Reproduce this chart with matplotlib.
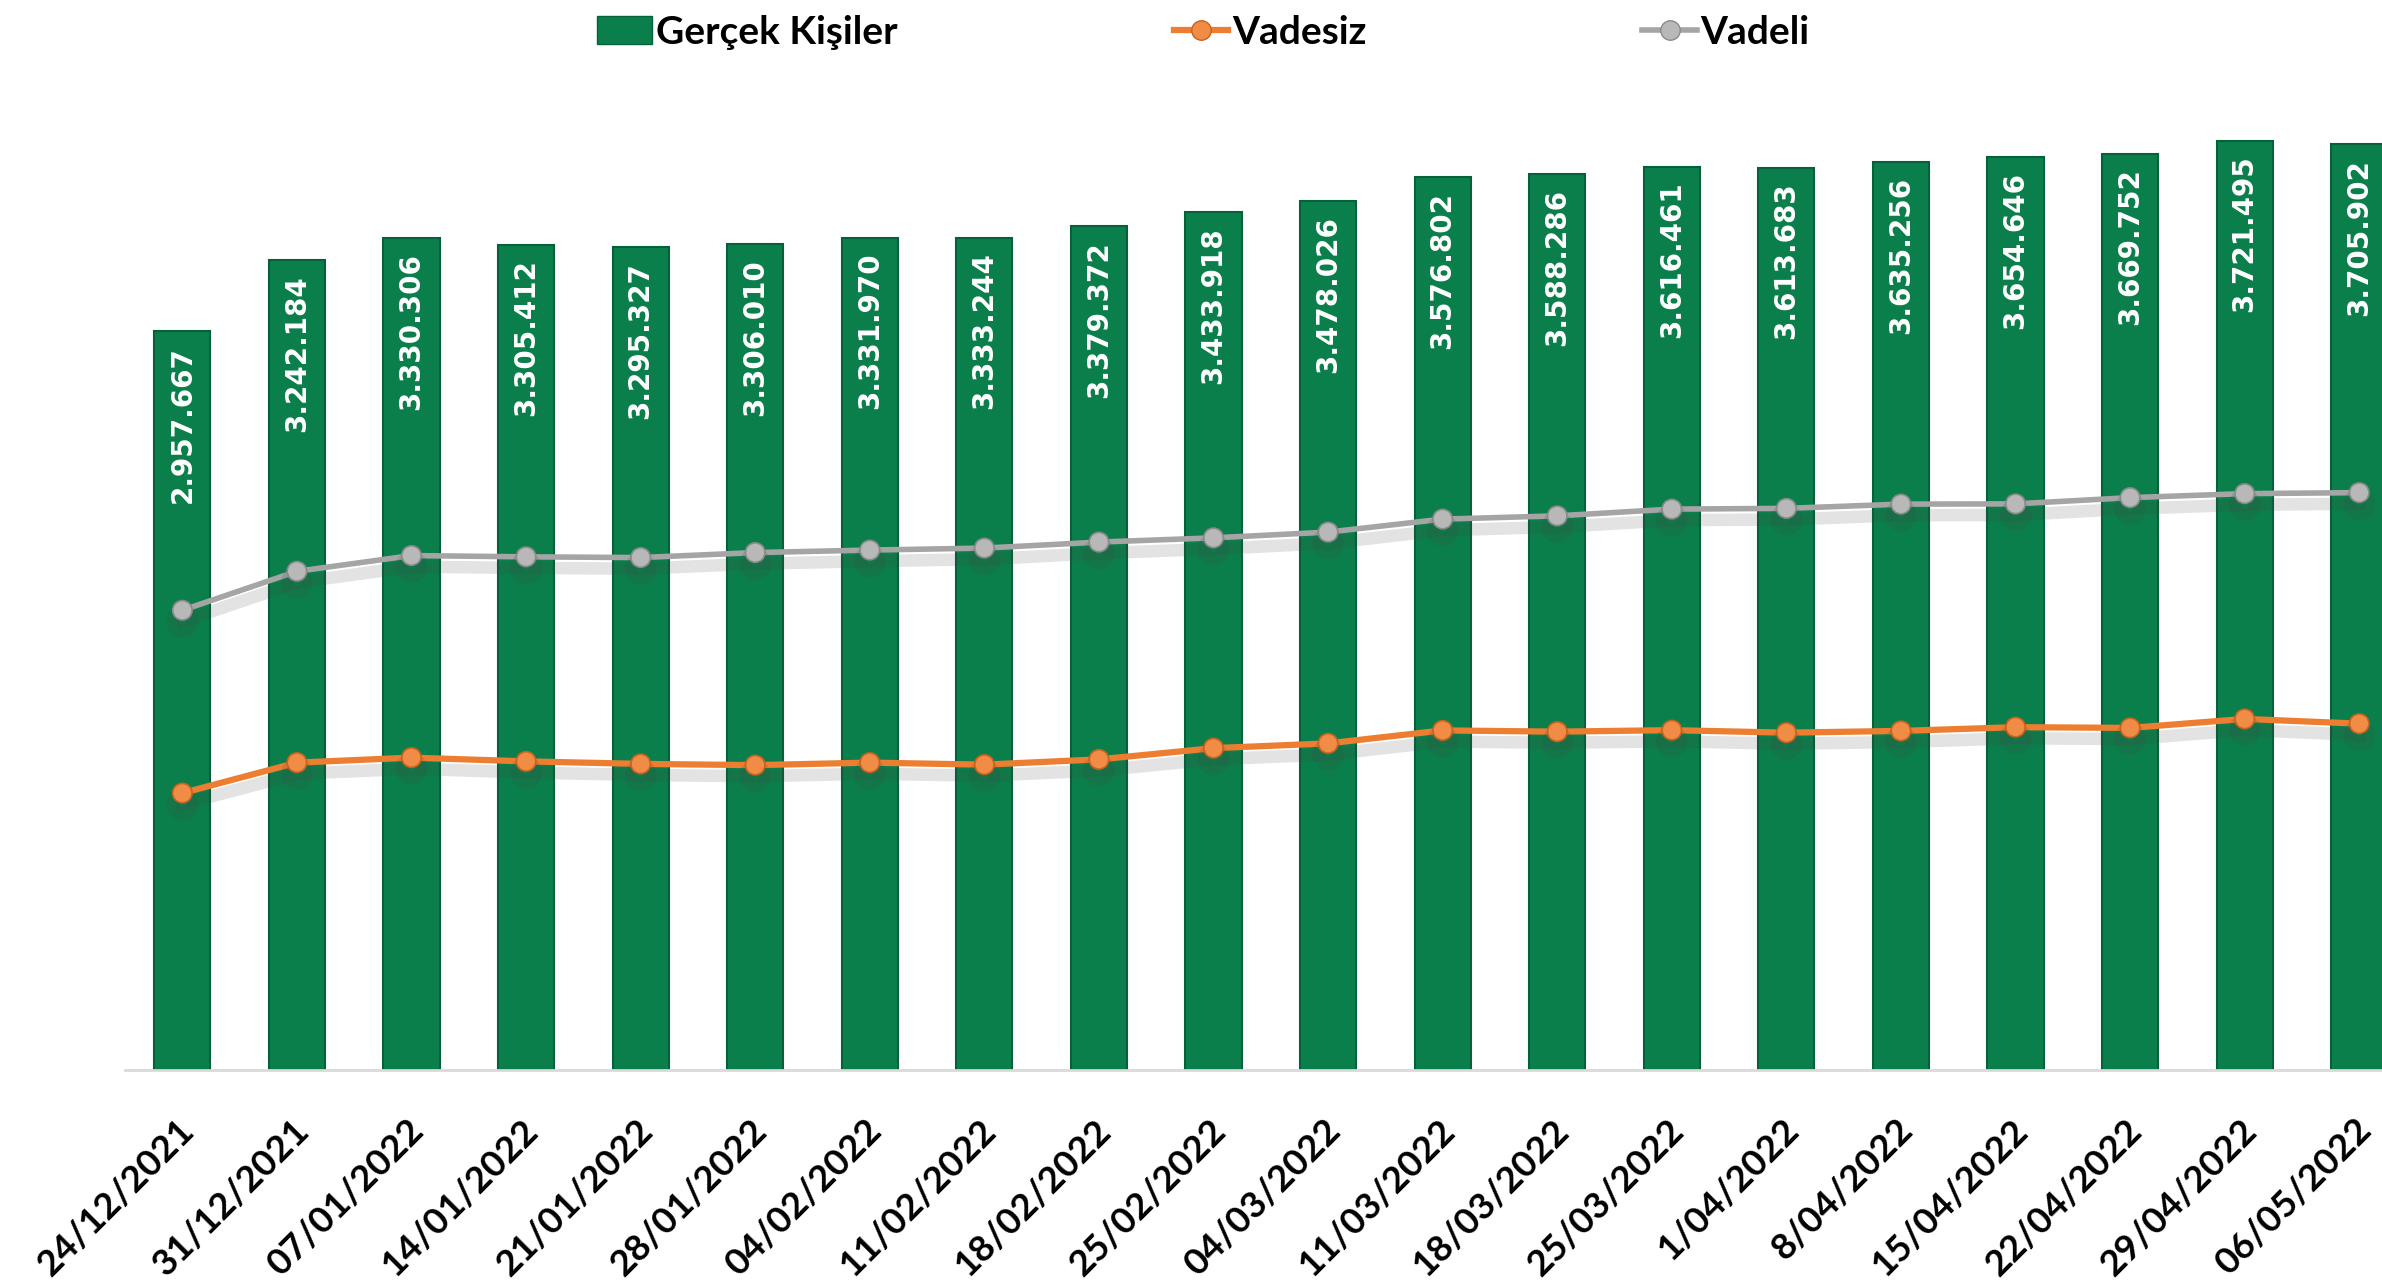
import matplotlib
matplotlib.use("Agg")
import matplotlib.pyplot as plt
import matplotlib.patheffects as pe
from matplotlib.lines import Line2D
from matplotlib.patches import Patch
from matplotlib.transforms import ScaledTranslation
import numpy as np

dates = ["24/12/2021", "31/12/2021", "07/01/2022", "14/01/2022", "21/01/2022",
         "28/01/2022", "04/02/2022", "11/02/2022", "18/02/2022", "25/02/2022",
         "04/03/2022", "11/03/2022", "18/03/2022", "25/03/2022", "1/04/2022",
         "8/04/2022", "15/04/2022", "22/04/2022", "29/04/2022", "06/05/2022"]

gercek_kisiler = [2957667, 3242184, 3330306, 3305412, 3295327, 3306010, 3331970,
                  3333244, 3379372, 3433918, 3478026, 3576802, 3588286, 3616461,
                  3613683, 3635256, 3654646, 3669752, 3721495, 3705902]

# (no labels in the source)
vadesiz = [1109000, 1231000, 1251000, 1236000, 1226000, 1221000, 1231000, 1223000,
           1244000, 1289000, 1308000, 1360000, 1355000, 1361000, 1351000, 1358000,
           1373000, 1370000, 1406000, 1387000]
vadeli = [1841000, 1997000, 2060000, 2055000, 2052000, 2072000, 2082000, 2090000,
          2114000, 2131000, 2154000, 2206000, 2219000, 2246000, 2249000, 2266000,
          2267000, 2292000, 2308000, 2312000]

GREEN = "#0a7f4b"
ORANGE = "#ed7d31"
GREY = "#a5a5a5"


def fmt(v):
    return f"{v:,}".replace(",", ".")


fig = plt.figure(figsize=(23.82, 12.80), dpi=100)
ax = fig.add_axes([0.0525, 0.164, 0.962, 0.7805])

x = np.arange(len(dates))
bars = ax.bar(x, gercek_kisiler, width=0.49, color=GREEN, edgecolor="#06603a",
              linewidth=1.5, zorder=2)
for b, v in zip(bars, gercek_kisiler):
    ax.text(b.get_x() + b.get_width() / 2, v - 60000, fmt(v), rotation=90,
            ha="center", va="top", color="white", fontsize=20, fontweight="bold",
            family="DejaVu Sans", zorder=4)

shadow = [pe.SimpleLineShadow(offset=(0, -8), shadow_color="#444444", alpha=0.15,
                              linewidth=9), pe.Normal()]
ax.plot(x, vadesiz, color=ORANGE, lw=4.5, marker="o", markersize=14,
        markerfacecolor="#f08c45", markeredgecolor="#c8621e", markeredgewidth=1.2,
        zorder=5, path_effects=shadow)
ax.plot(x, vadeli, color=GREY, lw=4, marker="o", markersize=14,
        markerfacecolor="#b8b8b8", markeredgecolor="#8a8a8a", markeredgewidth=1.2,
        zorder=5, path_effects=shadow)

ax.set_xlim(-0.5, len(dates) - 0.5)
ax.set_ylim(0, 4000000)
ax.set_yticks([])
for s in ["top", "right", "left"]:
    ax.spines[s].set_visible(False)
ax.spines["bottom"].set_color("#d9d9d9")
ax.spines["bottom"].set_linewidth(2)
ax.set_xticks(x)
ax.set_xticklabels(dates, rotation=45, ha="right", rotation_mode="anchor",
                   fontsize=26.5, fontweight="bold", family="Lato")
ax.tick_params(axis="x", length=0, pad=31)
shift = ScaledTranslation(-0.05, 0, fig.dpi_scale_trans)
for lbl in ax.get_xticklabels():
    lbl.set_transform(lbl.get_transform() + shift)

handles = [
    Patch(facecolor=GREEN, edgecolor="#06603a"),
    Line2D([0], [0], color=ORANGE, lw=4.5, marker="o", markersize=14,
           markerfacecolor="#f08c45", markeredgecolor="#c8621e"),
    Line2D([0], [0], color=GREY, lw=4, marker="o", markersize=14,
           markerfacecolor="#b8b8b8", markeredgecolor="#8a8a8a"),
]
fig.legend(handles, ["Gerçek Kişiler", "Vadesiz", "Vadeli"], loc="center",
           bbox_to_anchor=(0.5053, 0.975), ncol=3, frameon=False,
           prop={"family": "Lato", "weight": "bold", "size": 28},
           handlelength=1.4, handletextpad=0.1, columnspacing=7.1)

fig.savefig("out.png", dpi=100)
